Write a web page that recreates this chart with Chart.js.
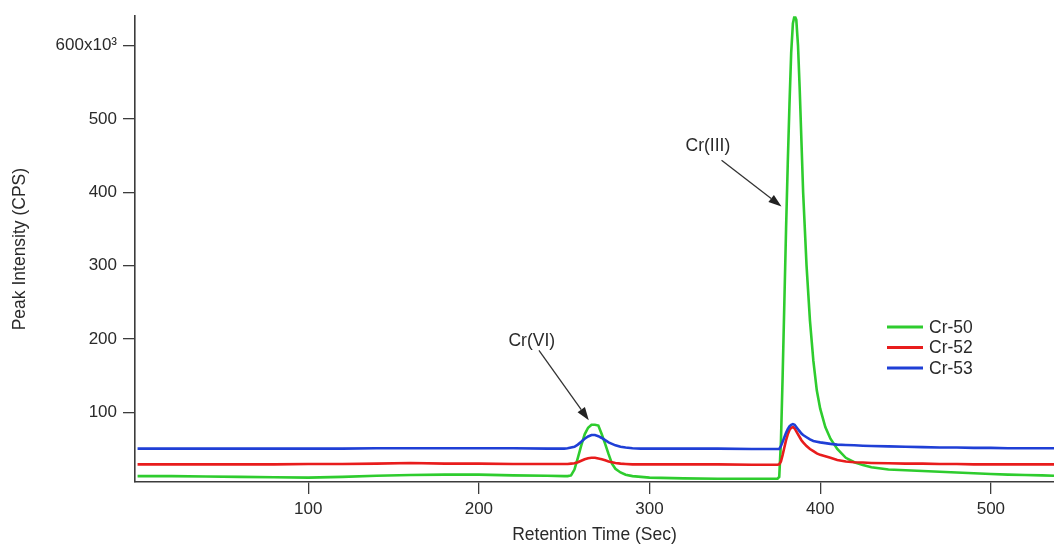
<!DOCTYPE html>
<html>
<head>
<meta charset="utf-8">
<script src="https://cdn.jsdelivr.net/npm/chart.js@4.4.1/dist/chart.umd.min.js"></script>
<style>
  html, body { margin: 0; padding: 0; background: #ffffff; }
  #wrap { width: 1054px; height: 544px; position: relative; }
</style>
</head>
<body>
<div id="wrap"><canvas id="c"></canvas></div>
<script>
// Retention time (sec)
const retentionTime = [0,20,40,60,80,100,120,140,160,180,200,220,240,250,252,254,256,258,260,262,264,266,268,270,272,274,276,278,280,283,286,290,295,300,320,340,360,370,375,376,377,378,379,380,381,382,383,384,385,386,387,388,389,390,392,394,396,398,400,403,406,410,415,420,425,430,440,450,460,470,480,490,500,510,520,530,537];
// Peak intensity (x10^3 CPS)
const cr50 = [13,13,12.5,12,11.5,11,12,13.5,14.5,15,15,14,13.5,13,13,14,22,38,55,70,79,83,83,82,70,57,43,30,23,18,15,13,12,11,10,9.5,9.5,9.5,9.5,12,60,150,250,350,440,520,590,630,641,635,600,540,470,400,300,225,170,130,105,80,64,50,38,32,28,25,22,21,20,19,18,17,16,15,14.5,14,13.5];
const cr52 = [29,29,29,29,29,29.5,29.5,30,31,30,30,29.5,29.5,29.5,29.5,30,30.5,32,34,36,37.5,38,38,37,36,34.5,33,32,31,30,29.5,29,29,29,29,29,28.5,28.5,28.5,29,33,42,52,62,70,76,79,80,78,74,70,66,62,59,54,50,47,44,42,40,38,35,33,32,31.5,31,30.5,30,30,29.5,29.5,29,29,29,29,29,29];
const cr53 = [50.5,50.5,50.5,50.5,50.5,50.5,50.5,51,51,51,51,51,50.5,50.5,51,52,53,56,60,64,67,69,69,67.5,65,62,59,57,55,53,52,51,50.5,50.5,50.5,50.5,50,50,50,50,54,60,66,72,77,81,83,84,83,80,77,74,71,69,66,63,61,60,59,58,57,56,55.5,55,54.5,54,53.5,53,52.5,52,52,51.5,51.5,51,51,51,51];

const seriesNames = ['Cr-50', 'Cr-52', 'Cr-53'];
const seriesColors = ['#2ecc2e', '#e81c1c', '#1f3fd6'];

const xTicks = [100, 200, 300, 400, 500];
const yTicks = [100, 200, 300, 400, 500, 600];

// Annotations (data coordinates)
const annLabels = ['Cr(VI)', 'Cr(III)'];
const annTextX = [231.0, 334.2];
const annTextY = [196.7, 462.4];
const annFromX = [235.2, 342.2];
const annFromY = [184.5, 443.5];
const annToX = [264.4, 377.3];
const annToY = [89.1, 380.7];

const FONT = "'Liberation Sans', Arial, sans-serif";
const TEXT = '#2a2a2a';
const AXIS = '#3c3c3c';

const seriesValues = [cr50, cr52, cr53];
const datasets = seriesValues.map((vals, i) => ({
  label: seriesNames[i],
  data: retentionTime.map((t, j) => ({ x: t, y: vals[j] })),
  borderColor: seriesColors[i],
  backgroundColor: seriesColors[i],
  borderWidth: 2.6,
  pointRadius: 0,
  tension: 0,
  fill: false
}));
// draw green on top like the reference
datasets.reverse();

const annotationPlugin = {
  id: 'annotations',
  afterDatasetsDraw(chart) {
    const ctx = chart.ctx;
    const xs = chart.scales.x, ys = chart.scales.y;
    ctx.save();
    ctx.font = '17.5px ' + FONT;
    ctx.fillStyle = TEXT;
    ctx.textAlign = 'center';
    ctx.textBaseline = 'middle';
    for (let i = 0; i < annLabels.length; i++) {
      ctx.fillText(annLabels[i], xs.getPixelForValue(annTextX[i]), ys.getPixelForValue(annTextY[i]));
      const x1 = xs.getPixelForValue(annFromX[i]), y1 = ys.getPixelForValue(annFromY[i]);
      const x2 = xs.getPixelForValue(annToX[i]), y2 = ys.getPixelForValue(annToY[i]);
      const ang = Math.atan2(y2 - y1, x2 - x1);
      const hl = 13, hw = 4.5;
      const bx = x2 - hl * Math.cos(ang), by = y2 - hl * Math.sin(ang);
      ctx.strokeStyle = '#333';
      ctx.lineWidth = 1.3;
      ctx.beginPath();
      ctx.moveTo(x1, y1);
      ctx.lineTo(bx, by);
      ctx.stroke();
      ctx.fillStyle = '#222';
      ctx.beginPath();
      ctx.moveTo(x2, y2);
      ctx.lineTo(bx + hw * Math.sin(ang), by - hw * Math.cos(ang));
      ctx.lineTo(bx - hw * Math.sin(ang), by + hw * Math.cos(ang));
      ctx.closePath();
      ctx.fill();
      ctx.fillStyle = TEXT;
    }
    // legend
    const lx1 = 887, lx2 = 923, ly0 = 327, dy = 20.5;
    ctx.textAlign = 'left';
    seriesNames.forEach((name, i) => {
      const y = ly0 + i * dy;
      ctx.strokeStyle = seriesColors[i];
      ctx.lineWidth = 3;
      ctx.beginPath();
      ctx.moveTo(lx1, y);
      ctx.lineTo(lx2, y);
      ctx.stroke();
      ctx.fillStyle = TEXT;
      ctx.fillText(name, 929, y + 1);
    });
    ctx.restore();
  }
};

new Chart(document.getElementById('c'), {
  type: 'line',
  data: { datasets },
  options: {
    responsive: true,
    maintainAspectRatio: false,
    animation: false,
    layout: { padding: { left: 0, right: 0, top: 16, bottom: 0 } },
    plugins: { legend: { display: false }, tooltip: { enabled: false } },
    scales: {
      x: {
        type: 'linear',
        min: -1.5,
        max: 537,
        afterBuildTicks: s => { s.ticks = xTicks.map(v => ({ value: v })); },
        afterFit: s => { s.height = 62; },
        grid: { drawOnChartArea: false, drawTicks: true, tickLength: 12, color: AXIS, lineWidth: 1.3 },
        border: { display: true, color: AXIS, width: 1.6 },
        ticks: { color: TEXT, font: { family: FONT, size: 17 }, padding: 5, maxRotation: 0, autoSkip: false },
        title: { display: true, text: 'Retention Time (Sec)', color: TEXT, font: { family: FONT, size: 17.5, lineHeight: 1 }, padding: { top: 0, bottom: 0 } }
      },
      y: {
        type: 'linear',
        min: 5,
        max: 640,
        afterBuildTicks: s => { s.ticks = yTicks.map(v => ({ value: v })); },
        afterFit: s => { s.width = 135; },
        grid: { drawOnChartArea: false, drawTicks: true, tickLength: 12, color: AXIS, lineWidth: 1.3 },
        border: { display: true, color: AXIS, width: 1.6 },
        ticks: { color: TEXT, font: { family: FONT, size: 17 }, padding: 6, callback: v => (v === 600 ? '600x10\u00B3' : String(v)) },
        title: { display: true, text: 'Peak Intensity (CPS)', color: TEXT, font: { family: FONT, size: 17.5, lineHeight: 1 }, padding: { top: 11, bottom: 0 } }
      }
    }
  },
  plugins: [annotationPlugin]
});
</script>
</body>
</html>
